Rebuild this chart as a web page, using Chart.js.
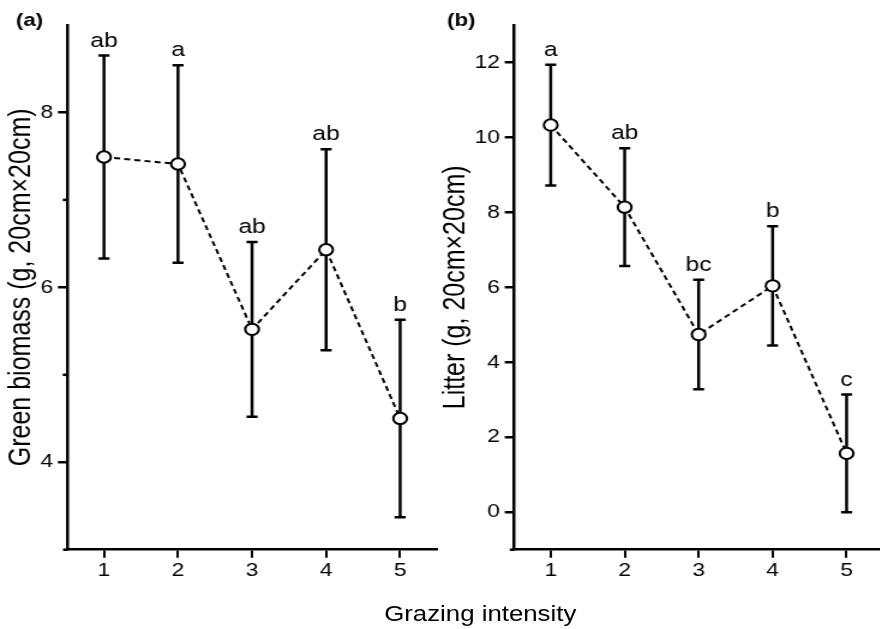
<!DOCTYPE html>
<html><head><meta charset="utf-8">
<script src="https://cdn.jsdelivr.net/npm/chart.js@4.4.1/dist/chart.umd.min.js"></script>
<style>
html,body{margin:0;padding:0;overflow:hidden;background:#fff;width:880px;height:629px;}
#wrap{position:absolute;left:0;top:0;width:734px;height:629px;transform:scaleX(1.2);transform-origin:0 0;}
canvas{position:absolute;top:0;}
#c1{left:0;}
#c2{left:360px;}
#xt{position:absolute;left:300px;width:200.4px;top:602px;text-align:center;font:21.5px 'Liberation Sans',Arial,sans-serif;color:#000;line-height:24px;}
</style></head><body>
<div id="wrap">
<canvas id="c1" width="372" height="629" style="width:372px;height:629px"></canvas>
<canvas id="c2" width="384" height="629" style="width:384px;height:629px"></canvas>
<div id="xt">Grazing intensity</div>
</div>
<script>
// ---- data ----
const categories = [1, 2, 3, 4, 5];
const greenMean = [7.49, 7.41, 5.52, 6.43, 4.50];
const greenErr = [1.16, 1.13, 1.00, 1.15, 1.13];
const greenLetters = ['ab', 'a', 'ab', 'ab', 'b'];
const greenTicks = [4, 6, 8];
const greenMinorTicks = [5, 7];
const litterMean = [10.33, 8.14, 4.74, 6.04, 1.57];
const litterErr = [1.61, 1.57, 1.46, 1.59, 1.57];
const litterLetters = ['a', 'ab', 'bc', 'b', 'c'];
const litterTicks = [0, 2, 4, 6, 8, 10, 12];
const litterMinorTicks = [];

const FONT = "'Liberation Sans', Arial, Helvetica, sans-serif";
Chart.defaults.font.family = FONT;
Chart.defaults.color = '#000';

function makePanel(id, means, errs, letters, yMin, yMax, major, minor, yTitle, panelLabel, yAxisWidth, titlePad, padRight, labelX) {
  const panelPlugin = {
    id: 'panel_' + id,
    beforeDatasetsDraw(chart) {
      const {ctx, scales: {x, y}} = chart;
      ctx.save();
      ctx.strokeStyle = '#000';
      ctx.lineWidth = 2.5;
      means.forEach((m, i) => {
        const px = x.getPixelForValue(categories[i]);
        const top = y.getPixelForValue(m + errs[i]);
        const bot = y.getPixelForValue(m - errs[i]);
        ctx.beginPath();
        ctx.moveTo(px, top); ctx.lineTo(px, bot);
        ctx.moveTo(px - 4.6, top); ctx.lineTo(px + 4.6, top);
        ctx.moveTo(px - 4.6, bot); ctx.lineTo(px + 4.6, bot);
        ctx.stroke();
      });
      ctx.restore();
    },
    afterDatasetsDraw(chart) {
      const {ctx, scales: {x, y}, chartArea} = chart;
      ctx.save();
      ctx.fillStyle = '#000';
      ctx.font = '20.5px ' + FONT;
      ctx.textAlign = 'center';
      ctx.textBaseline = 'alphabetic';
      means.forEach((m, i) => {
        const px = x.getPixelForValue(categories[i]);
        const top = y.getPixelForValue(m + errs[i]);
        ctx.fillText(letters[i], px, top - 9);
      });
      // minor ticks
      ctx.strokeStyle = '#000';
      ctx.lineWidth = 2.5;
      minor.forEach(v => {
        const py = y.getPixelForValue(v);
        ctx.beginPath();
        ctx.moveTo(chartArea.left, py);
        ctx.lineTo(chartArea.left - 3.5, py);
        ctx.stroke();
      });
      // x-axis overhang to the left of the y axis
      ctx.beginPath();
      ctx.moveTo(chartArea.left - 3.3, chartArea.bottom);
      ctx.lineTo(chartArea.left, chartArea.bottom);
      ctx.stroke();
      // panel label
      ctx.font = 'bold 18.5px ' + FONT;
      ctx.textAlign = 'left';
      ctx.textBaseline = 'middle';
      ctx.fillText(panelLabel, labelX, 21);
      ctx.restore();
    }
  };

  return new Chart(document.getElementById(id), {
    type: 'line',
    data: {
      datasets: [{
        data: categories.map((c, i) => ({x: c, y: means[i]})),
        borderColor: '#000',
        borderWidth: 2,
        borderDash: [5, 3.5],
        pointRadius: 5.7,
        pointBorderWidth: 2,
        pointBackgroundColor: '#fff',
        pointBorderColor: '#000',
        tension: 0,
        fill: false
      }]
    },
    options: {
      responsive: false,
      animation: false,
      devicePixelRatio: 1,
      layout: {padding: {top: 25, left: 0, right: padRight, bottom: 0}},
      plugins: {legend: {display: false}, tooltip: {enabled: false}},
      scales: {
        x: {
          type: 'linear', min: 0.5, max: 5.5,
          afterBuildTicks: s => { s.ticks = categories.map(v => ({value: v})); },
          grid: {drawOnChartArea: false, drawTicks: true, tickLength: 8, lineWidth: 2, color: '#000'},
          border: {display: true, color: '#000', width: 2.5},
          ticks: {color: '#000', font: {size: 19}, padding: 2, maxRotation: 0, callback: v => String(v)},
          afterFit: s => { s.height = 79.3; }
        },
        y: {
          type: 'linear', min: yMin, max: yMax,
          afterBuildTicks: s => { s.ticks = major.map(v => ({value: v})); },
          grid: {drawOnChartArea: false, drawTicks: true, tickLength: 7.5, lineWidth: 2.5, color: '#000'},
          border: {display: true, color: '#000', width: 2.5},
          ticks: {color: '#000', font: {size: 19}, padding: 4, callback: v => String(v)},
          title: {display: true, text: yTitle, color: '#000', font: {size: 25, lineHeight: 1.2}, padding: {top: titlePad, bottom: 0}},
          afterFit: s => { s.width = yAxisWidth; }
        }
      }
    },
    plugins: [panelPlugin]
  });
}

makePanel('c1', greenMean, greenErr, greenLetters, 3, 9, greenTicks, greenMinorTicks,
  'Green biomass (g, 20cm×20cm)', '(a)', 55.8, 3.3, 3.2, 13.3);
makePanel('c2', litterMean, litterErr, litterLetters, -1, 13, litterTicks, litterMinorTicks,
  'Litter (g, 20cm×20cm)', '(b)', 68.1, 5.6, 3.6, 12.5);
</script>
</body></html>
